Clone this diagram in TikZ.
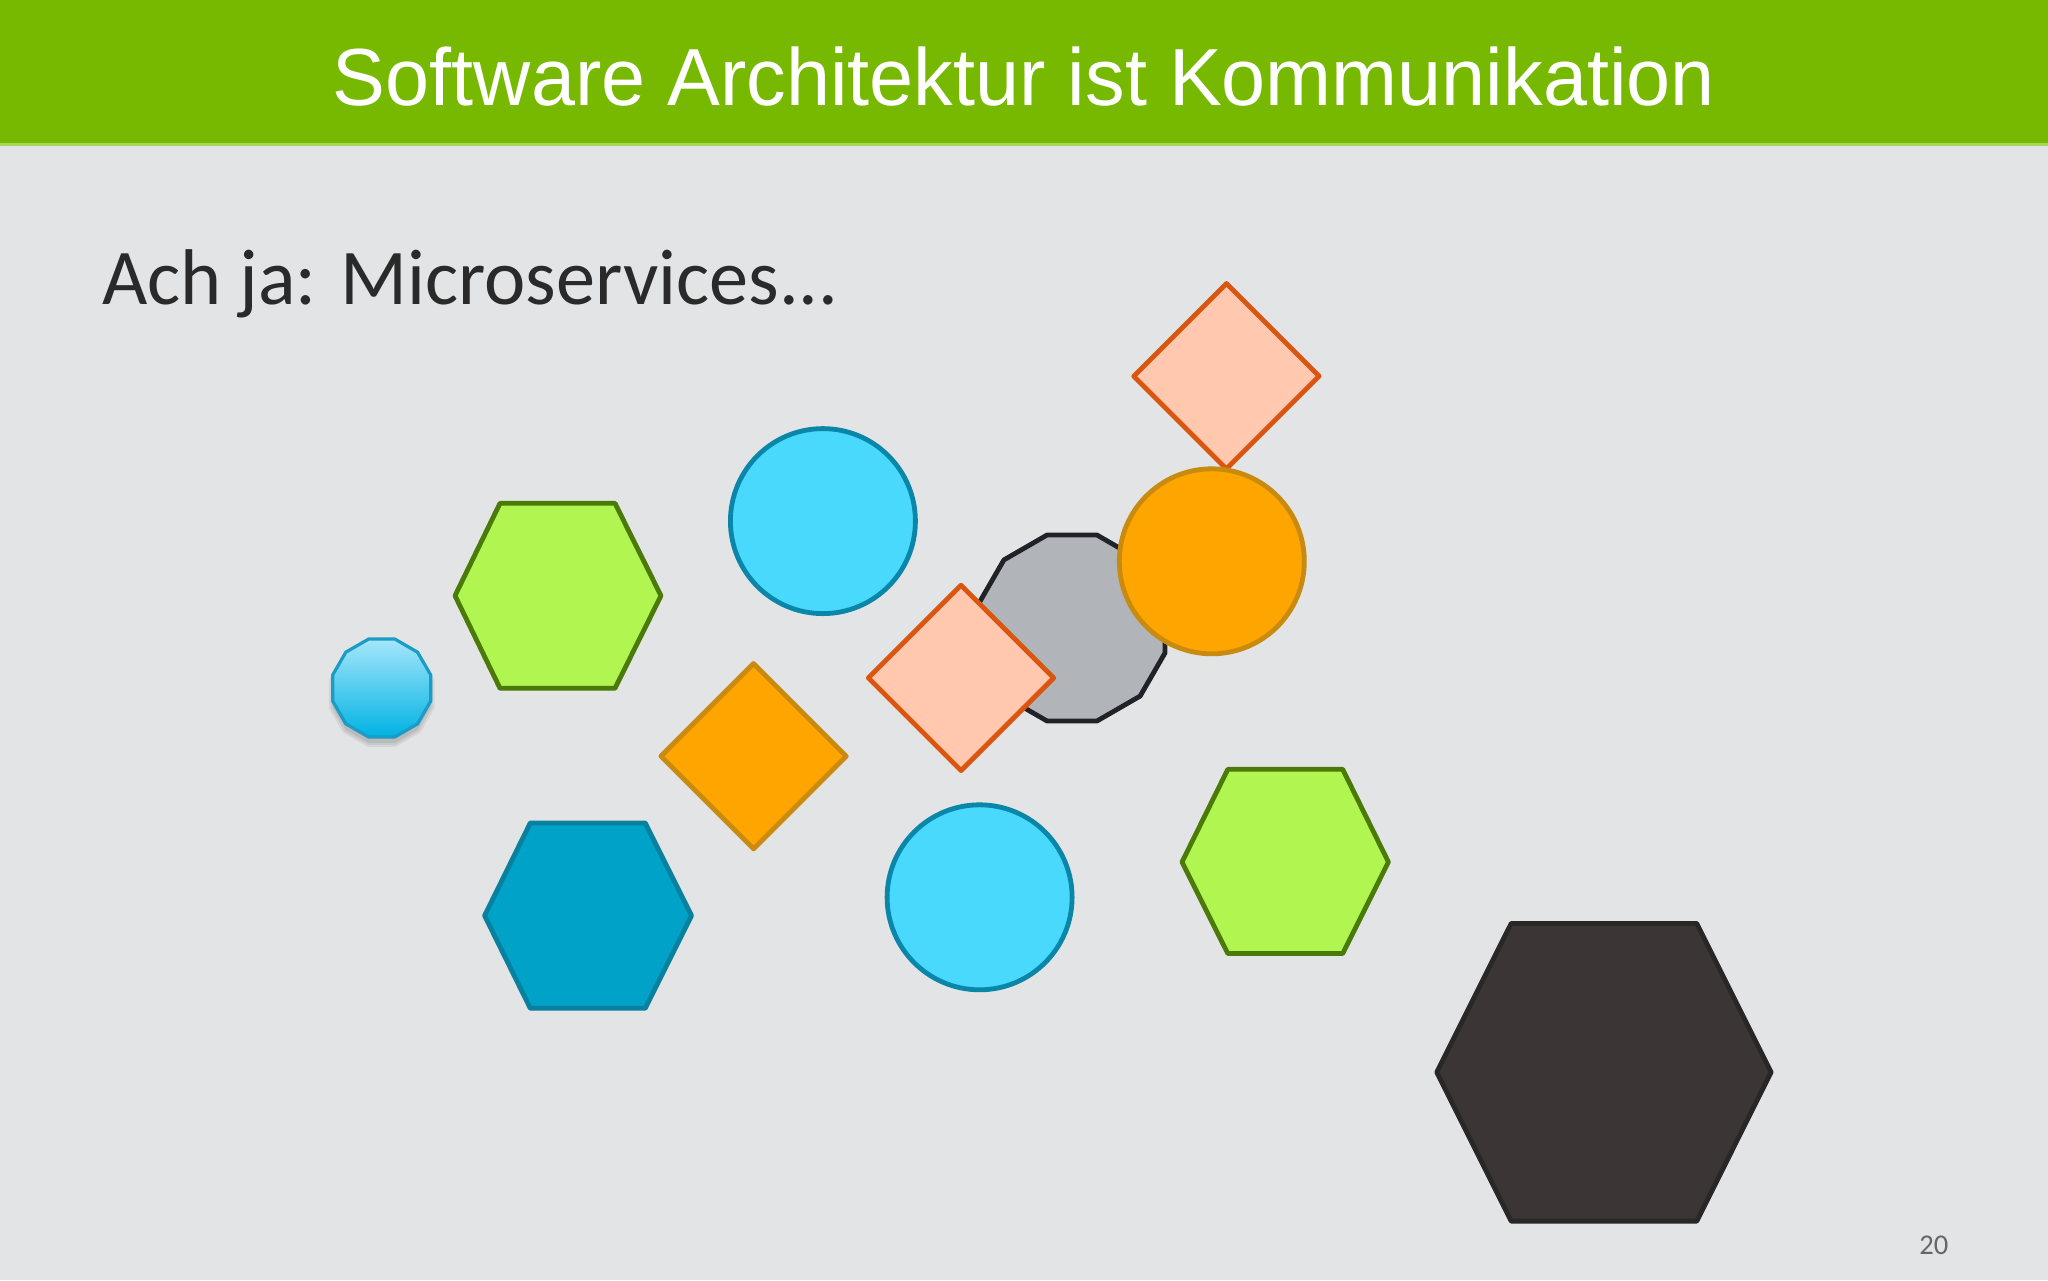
\documentclass[tikz,border=0pt]{standalone}
\usepackage{fontspec}
\setmainfont{Liberation Sans}
\newfontfamily\carlito{Carlito}
\definecolor{bg}{HTML}{E3E4E6}
\definecolor{hdr}{HTML}{76B900}
\definecolor{hdrline}{HTML}{A9D65A}
\definecolor{subtxt}{HTML}{2A2A2A}
\definecolor{pagetxt}{HTML}{666666}
\definecolor{cyanfill}{HTML}{48D9FD}
\definecolor{cyanline}{HTML}{0A86A8}
\definecolor{orfill}{HTML}{FFA500}
\definecolor{orline}{HTML}{C98A10}
\definecolor{pkfill}{HTML}{FFC8AF}
\definecolor{pkline}{HTML}{DA5510}
\definecolor{grfill}{HTML}{B0F550}
\definecolor{grline}{HTML}{4A7A08}
\definecolor{dbfill}{HTML}{00A2C8}
\definecolor{dbline}{HTML}{08809E}
\definecolor{gyfill}{HTML}{B1B5B9}
\definecolor{gyline}{HTML}{1F2226}
\definecolor{dkfill}{HTML}{3B3635}
\definecolor{dkline}{HTML}{282626}
\definecolor{smtop}{HTML}{A6E6FB}
\definecolor{smbot}{HTML}{00B2E3}
\definecolor{smline}{HTML}{1A9CC4}
\tikzset{
  shp/.style={line width=2.4pt, line join=round},
  cyanshp/.style={shp, fill=cyanfill, draw=cyanline},
  orshp/.style={shp, fill=orfill, draw=orline},
  pkshp/.style={shp, fill=pkfill, draw=pkline},
  grshp/.style={shp, fill=grfill, draw=grline},
  dbshp/.style={shp, fill=dbfill, draw=dbline},
  gyshp/.style={shp, fill=gyfill, draw=gyline},
  dkshp/.style={shp, fill=dkfill, draw=dkline},
}
\begin{document}
\begin{tikzpicture}[x=0.5pt,y=-0.5pt]
\useasboundingbox (0,0) rectangle (2048,1280);
\fill[bg] (0,0) rectangle (2048,1280);
\fill[hdr] (0,0) rectangle (2048,144);
\fill[hdrline] (0,143) rectangle (2048,146);
\node[anchor=base, inner sep=0, text=white, font=\fontsize{40.5pt}{48pt}\selectfont] (title) at (1024,105)
  {\resizebox{691pt}{\height}{Software Architektur ist Kommunikation}};
\node[anchor=base west, inner sep=0, text=subtxt, font=\carlito\fontsize{39.5pt}{46pt}\selectfont] (subtitle) at (102,304)
  {\resizebox{368pt}{\height}{Ach ja: Microservices...}};
\node[anchor=base west, inner sep=0, text=pagetxt, font=\carlito\fontsize{14.3pt}{17pt}\selectfont] (page) at (1919,1254) {20};

% small gradient dodecagon with soft shadow
\foreach \o/\k in {0.06/9, 0.06/7, 0.07/5}{
  \fill[black, opacity=\o] plot[samples at={15,45,...,345}, variable=\t] ({381.7+(50.7+\k-5)*cos(\t)},{694+(50.7+\k-5)*sin(\t)}) -- cycle;
}
\draw[line width=1.6pt, line join=round, top color=smtop, bottom color=smbot, draw=smline]
  plot[samples at={15,45,...,345}, variable=\t] ({381.7+50.7*cos(\t)},{688+50.7*sin(\t)}) -- cycle;

% green hexagon 1
\draw[grshp] (455,595.7) -- (500,503.3) -- (615,503.3) -- (661,595.7) -- (615,688.3) -- (500,688.3) -- cycle;
% top cyan circle
\draw[cyanshp] (822.9,521.1) circle[radius=92.5];
% orange diamond
\draw[orshp] (753.6,663.5) -- (846.3,756.2) -- (753.6,848.9) -- (660.9,756.2) -- cycle;
% dark blue hexagon
\draw[dbshp] (484.6,915.6) -- (530.3,822.9) -- (645.2,822.9) -- (691.5,915.6) -- (645.2,1008.3) -- (530.3,1008.3) -- cycle;
% gray dodecagon
\draw[gyshp] plot[samples at={15,45,...,345}, variable=\t] ({1072+96.3*cos(\t)},{628+96.3*sin(\t)}) -- cycle;
% middle peach diamond
\draw[pkshp] (961,585.2) -- (1053.7,677.9) -- (961,770.6) -- (868.3,677.9) -- cycle;
% top peach diamond
\draw[pkshp] (1226.4,283.5) -- (1319.1,376.2) -- (1226.4,468.9) -- (1133.7,376.2) -- cycle;
% orange circle
\draw[orshp] (1211.8,561.3) circle[radius=92.5];
% bottom cyan circle
\draw[cyanshp] (979.6,897.3) circle[radius=92.5];
% green hexagon 2
\draw[grshp] (1182,862) -- (1227.8,769.3) -- (1342.7,769.3) -- (1388.4,862) -- (1342.7,953.5) -- (1227.8,953.5) -- cycle;
% big dark hexagon
\draw[dkshp] (1436.7,1072.3) -- (1511.2,923.4) -- (1696.7,923.4) -- (1771.1,1072.3) -- (1696.7,1221.2) -- (1511.2,1221.2) -- cycle;
\end{tikzpicture}
\end{document}
